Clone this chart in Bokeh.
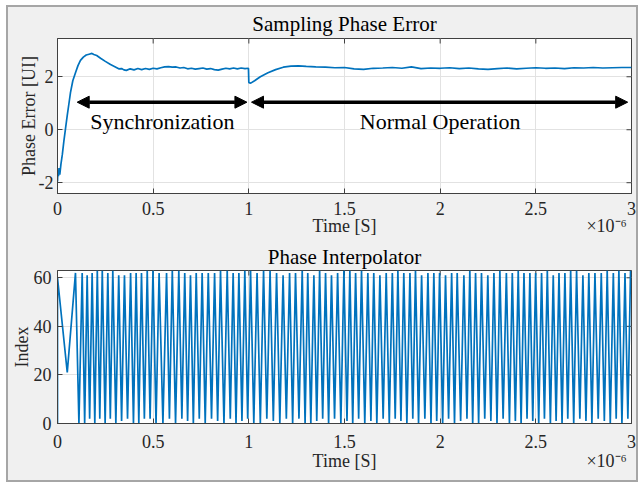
from bokeh.plotting import figure
from bokeh.models import Range1d, FixedTicker, Label, Arrow, NormalHead, ColumnDataSource, LinearAxis
from bokeh.layouts import column
from bokeh.embed import file_html
from bokeh.resources import INLINE

# ---------------- data ----------------
x_ticks = [0, 0.5, 1, 1.5, 2, 2.5, 3]
x_tick_labels = ["0", "0.5", "1", "1.5", "2", "2.5", "3"]
x_title = "Time [S]"
x_exponent = "\u00d710\u207b\u2076"
pe_y_ticks = [-2, 0, 2]
pe_y_tick_labels = ["-2", "0", "2"]
pi_y_ticks = [0, 20, 40, 60]
pi_y_tick_labels = ["0", "20", "40", "60"]

# Sampling phase error (time in microseconds, value in UI)
pe_t = [0.000, 0.002, 0.005, 0.008, 0.012, 0.018, 0.025, 0.033, 0.042, 0.051, 0.060, 0.068,
        0.080, 0.094, 0.107, 0.120, 0.135, 0.150, 0.165, 0.180, 0.190, 0.205, 0.225, 0.250,
        0.277, 0.300, 0.320, 0.335, 0.347, 0.360, 0.380, 0.400, 0.420, 0.440, 0.460, 0.480,
        0.500, 0.520, 0.540, 0.560, 0.580, 0.600, 0.620, 0.640, 0.660, 0.680, 0.700, 0.720,
        0.740, 0.760, 0.780, 0.800, 0.820, 0.840, 0.860, 0.880, 0.900, 0.920, 0.940, 0.960,
        0.980, 0.998, 1.000, 1.010, 1.030, 1.060, 1.100, 1.140, 1.180, 1.220, 1.260, 1.300,
        1.350, 1.400, 1.450, 1.500, 1.550, 1.600, 1.650, 1.700, 1.750, 1.800, 1.850, 1.900,
        1.950, 2.000, 2.050, 2.100, 2.150, 2.200, 2.250, 2.300, 2.350, 2.400, 2.450, 2.500,
        2.550, 2.600, 2.650, 2.700, 2.750, 2.800, 2.850, 2.900, 2.950, 3.000]
pe_v = [-1.95, -1.55, -1.75, -1.45, -1.70, -1.30, -0.95, -0.45, 0.05, 0.54, 1.00, 1.41,
        1.85, 2.15, 2.42, 2.62, 2.74, 2.82, 2.85, 2.88, 2.84, 2.80, 2.70, 2.58,
        2.46, 2.38, 2.30, 2.31, 2.26, 2.24, 2.30, 2.26, 2.31, 2.27, 2.31, 2.28,
        2.32, 2.30, 2.34, 2.37, 2.38, 2.36, 2.37, 2.33, 2.35, 2.30, 2.32, 2.29,
        2.31, 2.33, 2.29, 2.31, 2.27, 2.25, 2.29, 2.32, 2.30, 2.33, 2.30, 2.33,
        2.31, 2.32, 1.78, 1.76, 1.85, 2.00, 2.15, 2.27, 2.36, 2.40, 2.41, 2.39,
        2.37, 2.36, 2.34, 2.35, 2.30, 2.28, 2.32, 2.33, 2.35, 2.32, 2.37, 2.31,
        2.33, 2.32, 2.34, 2.31, 2.33, 2.30, 2.28, 2.31, 2.33, 2.30, 2.32, 2.34,
        2.32, 2.33, 2.31, 2.34, 2.33, 2.35, 2.33, 2.34, 2.35, 2.35]

arrow_x_start = [0.103, 1.014]
arrow_x_end = [0.990, 2.980]
arrow_y = [1.04, 1.04]
region_names = ["Synchronization", "Normal Operation"]
region_x = [0.548, 2.0]
region_y = [0.30, 0.30]

# Phase interpolator index (time in microseconds): start, then alternating tops / bottoms
pi_start_t = [0.0, 0.0, 0.051]
pi_start_v = [0, 60, 21]
pi_top_t = [0.094, 0.129, 0.155, 0.181, 0.208, 0.234, 0.263, 0.289, 0.320, 0.350, 0.382, 0.411, 0.439, 0.469, 0.499,
            0.531,
            0.570, 0.600, 0.634, 0.665, 0.695, 0.725, 0.756, 0.788, 0.821, 0.852, 0.887, 0.918, 0.948, 0.979,
            1.009, 1.043, 1.077, 1.111, 1.145, 1.179, 1.213, 1.244, 1.279, 1.308, 1.340, 1.370, 1.401, 1.432, 1.464,
            1.497, 1.528, 1.558, 1.589, 1.622, 1.653, 1.685, 1.718, 1.750, 1.779, 1.810, 1.842, 1.871, 1.903, 1.936, 1.967,
            1.997, 2.028, 2.060, 2.089, 2.124, 2.155, 2.185, 2.216, 2.249, 2.281, 2.312, 2.346, 2.377, 2.408, 2.438, 2.469,
            2.499, 2.530, 2.560, 2.591, 2.621, 2.652, 2.682, 2.713, 2.746, 2.777, 2.809, 2.842, 2.873, 2.905, 2.934, 2.966, 2.995]
pi_top_v = [62, 62, 61, 62, 63, 63, 62, 63, 61, 61, 62, 62, 62, 63, 63,
            62,
            62, 63, 63, 62, 61, 62, 62, 62, 62, 63, 63, 62, 62, 63,
            63, 62, 63, 63, 62, 61, 62, 62, 63, 62, 61, 63, 62, 61, 62,
            63, 63, 62, 63, 62, 62, 61, 62, 62, 63, 62, 62, 63, 61, 62, 62,
            62, 61, 62, 62, 61, 63, 62, 62, 61, 62, 63, 62, 62, 63, 62, 62,
            62, 62, 63, 61, 62, 62, 63, 63, 61, 62, 62, 62, 63, 62, 63, 62, 63]
pi_bot_t = [0.112, 0.142, 0.168, 0.195, 0.221, 0.249, 0.276, 0.305, 0.335, 0.366, 0.397, 0.425, 0.454, 0.484, 0.515,
            0.551,
            0.585, 0.617, 0.650, 0.680, 0.710, 0.741, 0.772, 0.805, 0.837, 0.870, 0.903, 0.933, 0.964, 0.994,
            1.026, 1.060, 1.094, 1.128, 1.162, 1.196, 1.229, 1.262, 1.294, 1.324, 1.355, 1.386, 1.417, 1.448, 1.481,
            1.513, 1.543, 1.574, 1.606, 1.638, 1.669, 1.702, 1.734, 1.765, 1.795, 1.826, 1.857, 1.887, 1.920, 1.952, 1.982,
            2.013, 2.044, 2.075, 2.107, 2.140, 2.170, 2.201, 2.233, 2.265, 2.297, 2.329, 2.362, 2.393, 2.423, 2.454, 2.484,
            2.515, 2.545, 2.576, 2.606, 2.637, 2.667, 2.698, 2.730, 2.762, 2.793, 2.826, 2.858, 2.889, 2.920, 2.950, 2.981]
pi_bot_v = [0, 0, 2, 0, 2, 0, 2, 0, 1, 2, 0, 0, 2, 2, 0,
            0,
            2, 0, 2, 1, 0, 2, 0, 2, 1, 0, 2, 0, 1, 2,
            0, 0, 2, 1, 0, 2, 0, 2, 0, 0, 1, 2, 0, 2, 0,
            1, 0, 2, 0, 1, 0, 2, 0, 2, 1, 0, 2, 0, 2, 0, 1,
            0, 2, 0, 1, 2, 0, 0, 2, 1, 0, 2, 0, 1, 0, 2, 1,
            0, 2, 0, 1, 0, 2, 0, 2, 1, 0, 2, 1, 0, 2, 0, 2]

pi_t = list(pi_start_t)
pi_v = list(pi_start_v)
for i in range(len(pi_top_t)):
    pi_t.append(pi_top_t[i]); pi_v.append(pi_top_v[i])
    if i < len(pi_bot_t):
        pi_t.append(pi_bot_t[i]); pi_v.append(pi_bot_v[i])

# ---------------- style ----------------
FONT = "Liberation Serif"
BLUE = "#0072BD"
FRAME = "#404040"
GRID = "#e2e2e2"
BG = "#f0f0f0"
TXT = "#262626"
XTITLE_POS = 1.5      # centre of the time axis
XEXP_POS = 2.87       # MATLAB-style exponent near the right end


def make_fig(h, yr, yt, ytl, ystandoff, xstandoff, mb_bottom, title, title_so, ylabel, ylabel_so, xrow_so):
    p = figure(width=628, height=h, x_range=Range1d(0, 3), y_range=Range1d(*yr),
               output_backend="svg", toolbar_location=None, title=title,
               min_border_left=49, min_border_right=5, min_border_top=28, min_border_bottom=mb_bottom,
               background_fill_color="white", border_fill_color=BG)
    p.title.align = "center"
    p.title.text_font = FONT
    p.title.text_font_size = "21px"
    p.title.text_font_style = "normal"
    p.title.text_color = "black"
    p.title.standoff = title_so
    p.outline_line_color = FRAME
    p.outline_line_width = 1
    xt = FixedTicker(ticks=x_ticks)
    ytk = FixedTicker(ticks=yt)
    for ax, tk, labs, so in ((p.xaxis[0], xt, x_tick_labels, xstandoff), (p.yaxis[0], ytk, ytl, ystandoff)):
        ax.ticker = tk
        ax.major_label_overrides = {k: v for k, v in zip(tk.ticks, labs)}
        ax.major_tick_in = 5
        ax.major_tick_out = 0
        ax.minor_tick_line_color = None
        ax.axis_line_color = FRAME
        ax.major_tick_line_color = FRAME
        ax.major_label_text_font = FONT
        ax.major_label_text_font_size = "18px"
        ax.major_label_text_color = TXT
        ax.major_label_standoff = so
        ax.axis_label_text_font = FONT
        ax.axis_label_text_font_size = "18px"
        ax.axis_label_text_font_style = "normal"
        ax.axis_label_text_color = TXT
    p.yaxis[0].axis_label = ylabel
    p.yaxis[0].axis_label_standoff = ylabel_so
    # one text row under the tick labels: "Time [S]" centred, exponent at the right
    row = LinearAxis(ticker=FixedTicker(ticks=[XTITLE_POS, XEXP_POS]),
                     major_label_overrides={XTITLE_POS: x_title, XEXP_POS: x_exponent},
                     major_tick_in=0, major_tick_out=0, major_tick_line_color=None,
                     minor_tick_line_color=None, axis_line_color=None,
                     major_label_text_font=FONT, major_label_text_font_size="18px",
                     major_label_text_color=TXT, major_label_standoff=xrow_so)
    p.add_layout(row, "below")
    p.xgrid.ticker = xt
    p.ygrid.ticker = ytk
    p.xgrid.grid_line_color = GRID
    p.ygrid.grid_line_color = GRID
    # inward tick marks on the top and right edges (outer halves are clipped by the frame)
    p.scatter(x_ticks, [yr[1]] * len(x_ticks), marker="dash", size=10, angle=1.5708,
              line_color=FRAME, line_width=1)
    p.scatter([3] * len(yt), yt, marker="dash", size=10, line_color=FRAME, line_width=1)
    return p


def txt(p, x, y, s, size, align="center", color="black"):
    p.add_layout(Label(x=x, y=y, text=s, text_font=FONT, text_font_size=size,
                       text_align=align, text_baseline="alphabetic", text_color=color))


# ---------------- top plot ----------------
p1 = make_fig(233, (-2.407, 3.444), pe_y_ticks, pe_y_tick_labels, 4, 8, 47,
              "Sampling Phase Error", 5, "Phase Error [UI]", -3, -2)
p1.line(pe_t, pe_v, line_color=BLUE, line_width=1.7)
asrc = ColumnDataSource(dict(x0=arrow_x_start, x1=arrow_x_end, y=arrow_y))
p1.add_layout(Arrow(start=NormalHead(size=12, fill_color="black", line_color="black"),
                    end=NormalHead(size=12, fill_color="black", line_color="black"),
                    x_start="x0", y_start="y", x_end="x1", y_end="y", source=asrc,
                    line_width=3.5, line_color="black"))
for name, rx, ry in zip(region_names, region_x, region_y):
    txt(p1, rx, ry, name, "22px")

# ---------------- bottom plot ----------------
p2 = make_fig(240, (0, 63), pi_y_ticks, pi_y_tick_labels, 6, 11, 57,
              "Phase Interpolator", 4, "Index", -1, 0)
p2.line(pi_t, pi_v, line_color=BLUE, line_width=1.7)

layout = column(p1, p2, spacing=0,
                styles={"border": "2px solid #a6a6a6", "background-color": BG,
                        "margin-left": "6px", "margin-top": "5px"})

open("out.html", "w").write(file_html(layout, INLINE))
